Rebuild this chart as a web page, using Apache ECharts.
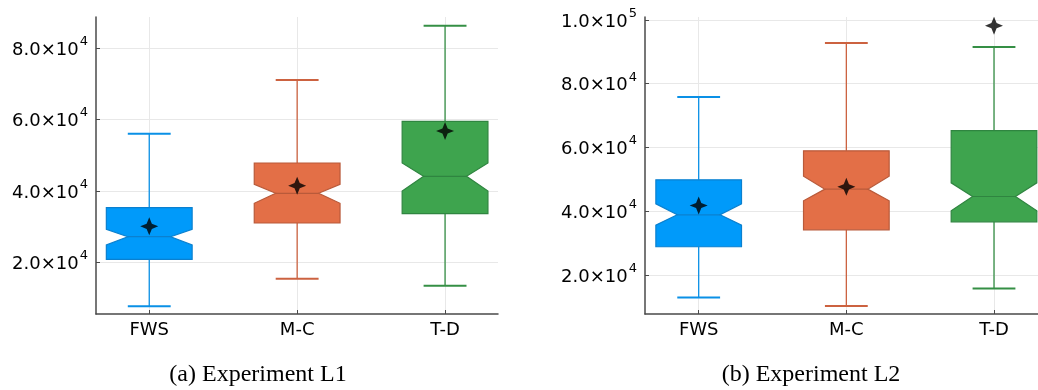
<!DOCTYPE html>
<html>
<head>
<meta charset="utf-8">
<title>Experiment L1 / L2</title>
<script src="https://cdn.jsdelivr.net/npm/echarts@6/dist/echarts.min.js"></script>
<style>
  html, body { margin: 0; padding: 0; background: #fff; }
  #chart { width: 1038px; height: 390px; }
</style>
</head>
<body>
<div id="chart"></div>
<script>
// Groups shown on each panel
const categories = ['FWS', 'M-C', 'T-D'];

// Experiment L1: whiskers, quartiles, notch bounds, median and mean per group
const l1Low      = [7630, 15370, 13410];
const l1Q1       = [20810, 31000, 33600];
const l1NotchLo  = [24830, 36520, 39970];
const l1Median   = [27150, 39330, 44100];
const l1NotchHi  = [29230, 41850, 47830];
const l1Q3       = [35290, 47830, 59520];
const l1High     = [56050, 71110, 86340];
const l1Mean     = [30070, 41460, 56800];

// Experiment L2
const l2Low      = [12950, 10250, 15770];
const l2Q1       = [28840, 34170, 36680];
const l2NotchLo  = [35640, 43260, 40130];
const l2Median   = [38870, 46930, 44610];
const l2NotchHi  = [42320, 51000, 48900];
const l2Q3       = [49840, 58930, 65300];
const l2High     = [75860, 92790, 91540];
const l2Mean     = [41790, 47650, 98210];

// Tick values
const l1YTicks = [20000, 40000, 60000, 80000];
const l2YTicks = [20000, 40000, 60000, 80000, 100000];
const xTicks = [1, 2, 3];

// Panel captions
const captions = ['(a) Experiment L1', '(b) Experiment L2'];

const fills   = ['#009AFA', '#E36F47', '#3EA44E'];
const strokes = ['#0b80cf', '#b95a3a', '#2f8540'];
const whisk   = ['#0a90e6', '#cc6240', '#358f45'];

const BOX_HALF = 0.29;   // half box width, x units
const CAP_HALF = 0.145;  // half whisker-cap width
const NOTCH_IN = 0.5;    // notch depth as share of half width

function buildRows(low, q1, nlo, med, nhi, q3, high) {
  return categories.map((c, i) => [i + 1, low[i], q1[i], nlo[i], med[i], nhi[i], q3[i], high[i]]);
}

function renderBox(params, api) {
  const i = params.dataIndex;
  const x = api.value(0);
  const P = v => api.coord([x, v]);
  const cx = P(0)[0];
  const hw = api.size([BOX_HALF, 0])[0];
  const cw = api.size([CAP_HALF, 0])[0];
  const inset = hw * NOTCH_IN;
  const yLow = P(api.value(1))[1], yQ1 = P(api.value(2))[1], yNlo = P(api.value(3))[1];
  const yMed = P(api.value(4))[1], yNhi = P(api.value(5))[1], yQ3 = P(api.value(6))[1];
  const yHigh = P(api.value(7))[1];
  const L = cx - hw, R = cx + hw;
  const wStyle = { stroke: whisk[i], lineWidth: 1.3 };
  const capStyle = { stroke: whisk[i], lineWidth: 2 };
  return {
    type: 'group',
    children: [
      { type: 'line', shape: { x1: cx, y1: yLow, x2: cx, y2: yQ1 }, style: wStyle },
      { type: 'line', shape: { x1: cx, y1: yQ3, x2: cx, y2: yHigh }, style: wStyle },
      { type: 'line', shape: { x1: cx - cw, y1: yLow, x2: cx + cw, y2: yLow }, style: capStyle },
      { type: 'line', shape: { x1: cx - cw, y1: yHigh, x2: cx + cw, y2: yHigh }, style: capStyle },
      {
        type: 'polygon',
        shape: { points: [
          [L, yQ3], [R, yQ3], [R, yNhi], [R - inset, yMed], [R, yNlo], [R, yQ1],
          [L, yQ1], [L, yNlo], [L + inset, yMed], [L, yNhi]
        ] },
        style: { fill: fills[i], stroke: strokes[i], lineWidth: 1.2 }
      },
      { type: 'line', shape: { x1: L + inset, y1: yMed, x2: R - inset, y2: yMed },
        style: { stroke: strokes[i], lineWidth: 1.2 } }
    ]
  };
}

// Four-pointed star used for the group means
const STAR = 'path://M0,-10 L2.9,-2.9 L10,0 L2.9,2.9 L0,10 L-2.9,2.9 L-10,0 L-2.9,-2.9 Z';

function sciLabel(v) {
  const e = Math.floor(Math.log10(v));
  const m = (v / Math.pow(10, e)).toFixed(1);
  return '{m|' + m + '×10}{e|' + e + '}';
}

const axisLineStyle = { color: '#4a4a4a', width: 1.5 };
const gridLine = { show: true, lineStyle: { color: '#e8e8e8', width: 1 } };

function xAxisFor(gridIndex, min, max) {
  return {
    type: 'value', gridIndex, min, max,
    axisLine: { show: true, onZero: false, lineStyle: axisLineStyle },
    axisTick: { show: true, inside: true, length: 4, customValues: xTicks, lineStyle: { color: '#4a4a4a' } },
    axisLabel: {
      customValues: xTicks, margin: 7, color: '#000',
      fontFamily: 'DejaVu Sans', fontSize: 18,
      formatter: v => categories[Math.round(v) - 1] || ''
    },
    splitLine: gridLine
  };
}

function yAxisFor(gridIndex, min, max, ticks) {
  return {
    type: 'value', gridIndex, min, max,
    axisLine: { show: true, lineStyle: axisLineStyle },
    axisTick: { show: true, inside: true, length: 4, customValues: ticks, lineStyle: { color: '#4a4a4a' } },
    axisLabel: {
      customValues: ticks, margin: 8, color: '#000',
      formatter: sciLabel,
      rich: {
        m: { fontFamily: 'DejaVu Sans', fontSize: 18, color: '#000', verticalAlign: 'bottom', lineHeight: 22 },
        e: { fontFamily: 'DejaVu Sans', fontSize: 13, color: '#000', verticalAlign: 'bottom', lineHeight: 22, padding: [0, 0, 11, 1] }
      }
    },
    splitLine: gridLine
  };
}

const captionStyle = { fontFamily: 'Liberation Serif', fontSize: 24, fontWeight: 'normal', color: '#000' };

const chart = echarts.init(document.getElementById('chart'), null, { renderer: 'canvas' });

chart.setOption({
  animation: false,
  backgroundColor: '#fff',
  grid: [
    { left: 96, top: 17, width: 402, height: 297 },
    { left: 645, top: 17, width: 393, height: 297 }
  ],
  xAxis: [xAxisFor(0, 0.64, 3.358), xAxisFor(1, 0.6364, 3.298)],
  yAxis: [yAxisFor(0, 5470, 88780, l1YTicks), yAxisFor(1, 7740, 100940, l2YTicks)],
  title: [
    { text: captions[0], left: 253, top: 358, textAlign: 'center', textStyle: captionStyle },
    { text: captions[1], left: 806, top: 358, textAlign: 'center', textStyle: captionStyle }
  ],
  series: [
    {
      type: 'custom', xAxisIndex: 0, yAxisIndex: 0, renderItem: renderBox,
      encode: { x: 0, y: [1, 2, 3, 4, 5, 6, 7] },
      data: buildRows(l1Low, l1Q1, l1NotchLo, l1Median, l1NotchHi, l1Q3, l1High)
    },
    {
      type: 'scatter', xAxisIndex: 0, yAxisIndex: 0, symbol: STAR, symbolSize: 18,
      itemStyle: { color: '#000' }, z: 5,
      data: l1Mean.map((v, i) => [i + 1, v])
    },
    {
      type: 'custom', xAxisIndex: 1, yAxisIndex: 1, renderItem: renderBox,
      encode: { x: 0, y: [1, 2, 3, 4, 5, 6, 7] },
      data: buildRows(l2Low, l2Q1, l2NotchLo, l2Median, l2NotchHi, l2Q3, l2High)
    },
    {
      type: 'scatter', xAxisIndex: 1, yAxisIndex: 1, symbol: STAR, symbolSize: 18,
      itemStyle: { color: '#000' }, z: 5,
      data: l2Mean.map((v, i) => [i + 1, v])
    }
  ]
});
</script>
</body>
</html>
